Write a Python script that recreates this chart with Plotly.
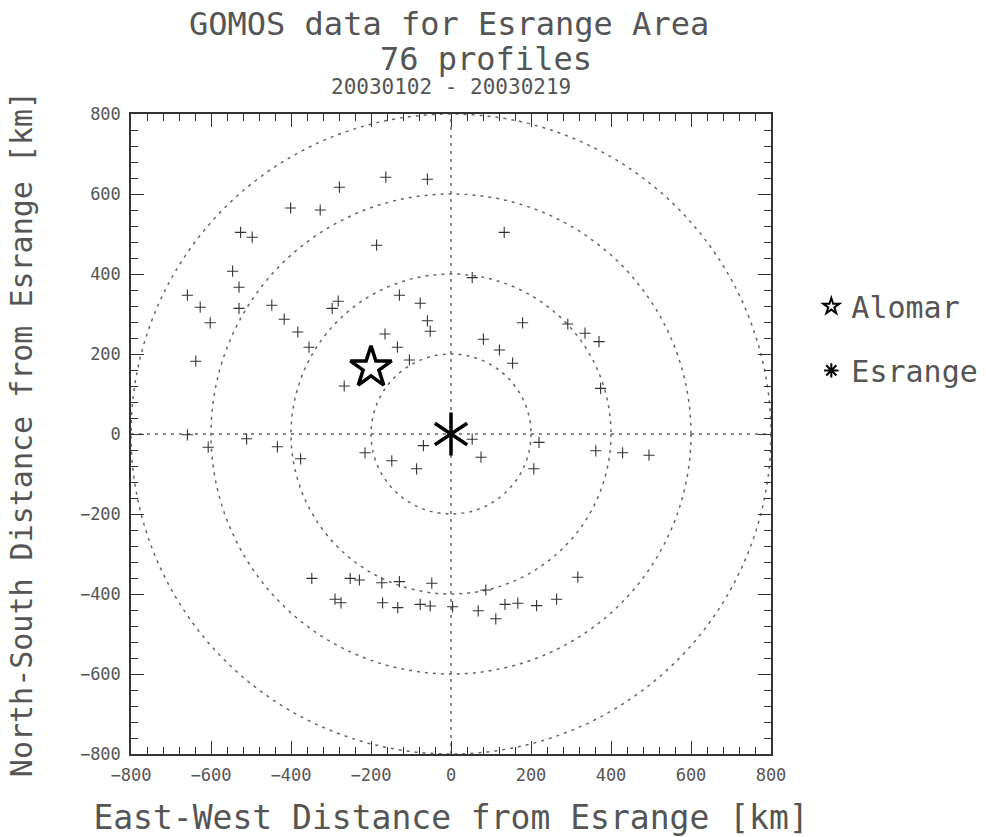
import plotly.graph_objects as go

# GOMOS occultation profile locations relative to Esrange (km)
PROFILE_EW = [
    -163, -59, -279, -401, -327, -526, -497, -186, -546, 133,
    53, -530, -659, -627, -530, -602, -448, -417, -383, -355,
    -638, -297, -282, -129, -77, -59, -52, -165, -134, -104,
    -267, 179, 81, 121, 154, 292, 335, 370, 374,
    -659, -607, -511, -434, -376, -215, -148, -86, -69, 53,
    220, 75, 362, 429, 495, 207,
    -348, -252, -229, -173, -129, -48, -290, -275, -171, -133,
    -77, -52, 4, 87, 317, 68, 112, 135, 167, 214, 264,
]
PROFILE_NS = [
    642, 637, 617, 565, 560, 504, 492, 472, 407, 504,
    391, 367, 347, 317, 314, 278, 322, 287, 255, 217,
    182, 314, 332, 347, 327, 283, 257, 250, 217, 185,
    120, 278, 237, 210, 177, 275, 252, 231, 114,
    -2, -33, -12, -32, -62, -47, -67, -87, -29, -13,
    -21, -58, -42, -47, -53, -87,
    -361, -361, -365, -372, -369, -373, -413, -422, -422, -434,
    -426, -430, -432, -390, -358, -442, -462, -426, -423, -429, -413,
]

ALOMAR = (-200, 166)
ESRANGE = (0, 0)

RING_RADII = [200, 400, 600, 800]
AXIS_RANGE = [-800, 800]
TICK_VALUES = [-800, -600, -400, -200, 0, 200, 400, 600, 800]

FONT = "DejaVu Sans Mono"
TEXT_COLOR = "#555555"
INK = "#333333"

fig = go.Figure()

fig.add_trace(go.Scatter(
    x=PROFILE_EW, y=PROFILE_NS, mode="markers", showlegend=False,
    marker=dict(symbol="cross-thin", size=8, color=INK,
                line=dict(width=1.1, color=INK)),
))

# Alomar: large open star
fig.add_trace(go.Scatter(
    x=[ALOMAR[0]], y=[ALOMAR[1]], mode="markers", name="Alomar",
    legendgroup="alomar",
    marker=dict(symbol="star-open", size=31, color="black",
                line=dict(width=3.5, color="black")),
))

# Esrange: six-armed asterisk built from two three-armed symbols
for sym in ("y-up-open", "y-down-open"):
    fig.add_trace(go.Scatter(
        x=[ESRANGE[0]], y=[ESRANGE[1]], mode="markers", showlegend=False,
        legendgroup="esrange",
        marker=dict(symbol=sym, size=27, color="black",
                    line=dict(width=3.5, color="black")),
    ))
fig.add_trace(go.Scatter(
    x=[ESRANGE[0]], y=[ESRANGE[1]], mode="markers", name="Esrange",
    legendgroup="esrange",
    marker=dict(symbol="asterisk-open", size=6, color="black",
                line=dict(width=1, color="black")),
))

shapes = []
for r in RING_RADII:
    shapes.append(dict(type="circle", xref="x", yref="y",
                       x0=-r, x1=r, y0=-r, y1=r, layer="below",
                       line=dict(color="#666666", width=1.5, dash="3px,5px")))
shapes.append(dict(type="line", xref="x", yref="y",
                   x0=0, x1=0, y0=AXIS_RANGE[0], y1=AXIS_RANGE[1], layer="below",
                   line=dict(color="#666666", width=1.5, dash="3px,5px")))
shapes.append(dict(type="line", xref="x", yref="y",
                   x0=AXIS_RANGE[0], x1=AXIS_RANGE[1], y0=0, y1=0, layer="below",
                   line=dict(color="#666666", width=1.5, dash="3px,5px")))

axis_common = dict(
    range=AXIS_RANGE, tickvals=TICK_VALUES, ticks="inside", ticklen=13,
    tickwidth=1.3, tickcolor="#333333", mirror="ticks", showline=True,
    linecolor="#333333", linewidth=1.5, showgrid=False, zeroline=False,
    tickfont=dict(family=FONT, size=17, color=TEXT_COLOR),
    minor=dict(dtick=40, ticks="inside", ticklen=7, tickwidth=1.1,
               tickcolor="#333333", showgrid=False),
    ticklabelstandoff=5, automargin=False,
)

fig.update_layout(
    width=986, height=837,
    margin=dict(l=131, r=215, t=114, b=83, autoexpand=False),
    paper_bgcolor="white", plot_bgcolor="white",
    shapes=shapes,
    xaxis=dict(axis_common,
               title=dict(text="East-West Distance from Esrange [km]",
                          font=dict(family=FONT, size=33, color=TEXT_COLOR),
                          standoff=27)),
    yaxis=dict(axis_common,
               title=dict(text="North-South Distance from Esrange [km]",
                          font=dict(family=FONT, size=30, color=TEXT_COLOR),
                          standoff=38)),
    legend=dict(x=1.063, y=0.74, xanchor="left", yanchor="top",
                font=dict(family=FONT, size=30, color=TEXT_COLOR),
                itemsizing="constant", tracegroupgap=22,
                bgcolor="rgba(0,0,0,0)"),
    showlegend=True,
    annotations=[
        dict(text="GOMOS data for Esrange Area", xref="paper", yref="paper",
             x=(449 - 131) / 640, y=(754 - 24) / 640, showarrow=False,
             xanchor="center", yanchor="middle",
             font=dict(family=FONT, size=32, color=TEXT_COLOR)),
        dict(text="76 profiles", xref="paper", yref="paper",
             x=(486 - 131) / 640, y=(754 - 59) / 640, showarrow=False,
             xanchor="center", yanchor="middle",
             font=dict(family=FONT, size=32, color=TEXT_COLOR)),
        dict(text="20030102 - 20030219", xref="paper", yref="paper",
             x=(451 - 131) / 640, y=(754 - 87) / 640, showarrow=False,
             xanchor="center", yanchor="middle",
             font=dict(family=FONT, size=21, color=TEXT_COLOR)),
    ],
)

fig.write_html("out.html")
